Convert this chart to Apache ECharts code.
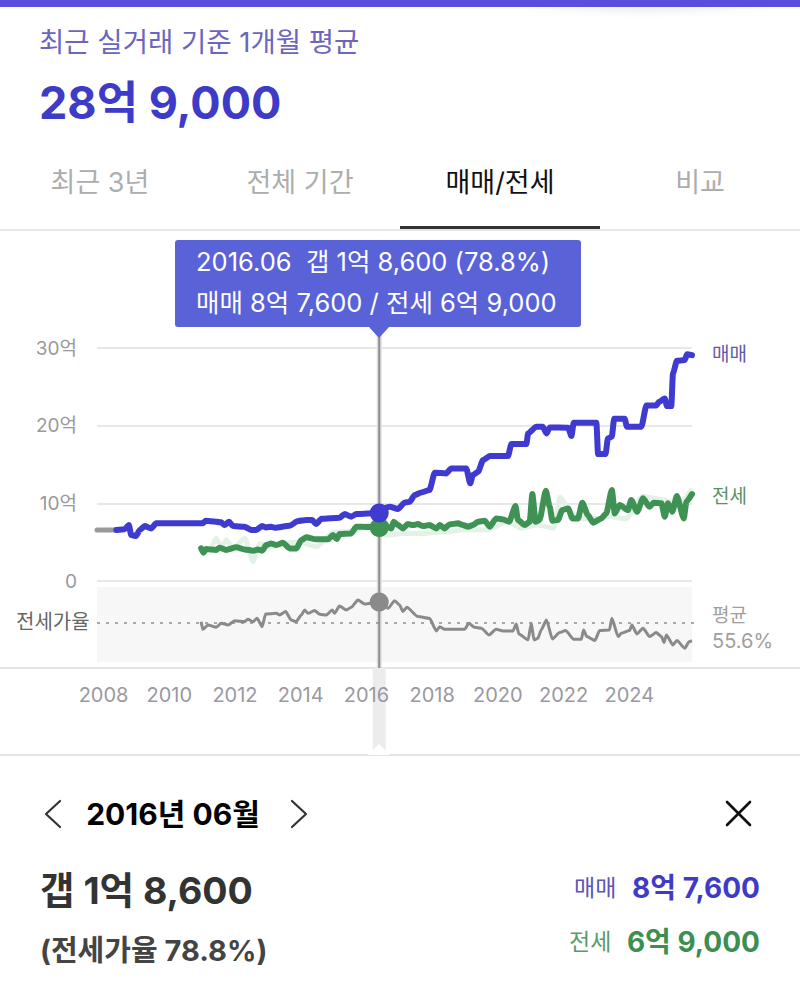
<!DOCTYPE html>
<html lang="ko"><head><meta charset="utf-8">
<style>html,body{margin:0;padding:0;background:#fff}#c{width:800px;height:1003px}</style>
<script src="https://cdn.jsdelivr.net/npm/echarts@6/dist/echarts.min.js"></script>
</head><body><div id="c"></div>
<script>
const xTicks=[2008,2010,2012,2014,2016,2018,2020,2022,2024];
const selectedYear=2016.39, selectedSale=8.76, selectedJeonse=6.9, selectedRatio=78.8, averageRatio=55.6;
const preYears=[2007.8,2008.39];
const preValues=[6.56,6.56];
const saleYears=[2008.39,2008.64,2008.77,2008.84,2008.99,2009.10,2009.25,2009.45,2009.60,2011.02,2011.11,2011.58,2011.68,2011.82,2011.94,2012.29,2012.50,2012.65,2012.82,2012.95,2013.10,2013.21,2013.66,2013.92,2014.17,2014.35,2014.47,2014.63,2015.18,2015.34,2015.54,2015.69,2016.39,2016.60,2016.71,2016.96,2017.16,2017.32,2017.47,2017.67,2017.92,2018.08,2018.43,2018.58,2019.04,2019.16,2019.24,2019.40,2019.55,2019.75,2020.31,2020.41,2020.87,2020.92,2021.17,2021.37,2021.48,2021.58,2022.14,2022.24,2022.31,2023.00,2023.05,2023.28,2023.35,2023.47,2023.54,2023.86,2023.93,2024.37,2024.52,2024.82,2024.91,2025.08,2025.15,2025.28,2025.33,2025.45,2025.69,2025.76,2025.91];
const saleValues=[6.56,6.65,7.20,5.92,5.79,6.56,7.07,6.77,7.42,7.42,7.76,7.55,7.20,7.63,7.07,6.99,6.56,6.56,7.07,6.90,6.99,6.86,7.12,7.72,7.85,7.85,7.33,8.02,8.15,8.62,8.28,8.62,8.76,9.45,9.56,9.26,10.08,10.21,11.06,11.41,11.71,13.94,13.85,14.50,14.50,12.57,13.64,14.07,15.57,16.08,16.08,17.63,17.63,19.00,19.86,19.86,19.00,19.77,19.73,18.66,20.37,20.37,16.34,16.34,18.36,18.57,20.89,20.89,19.86,19.86,22.60,22.60,23.08,23.51,22.52,22.52,26.72,28.35,28.44,29.21,29.08];
const jeonseYears=[2010.97,2011.04,2011.12,2011.43,2011.53,2011.73,2012.04,2012.29,2012.55,2012.70,2012.83,2012.95,2013.10,2013.26,2013.46,2013.66,2013.87,2014.02,2014.17,2014.47,2014.83,2014.98,2015.10,2015.18,2015.54,2015.69,2015.84,2016.39,2016.55,2016.63,2016.76,2016.83,2016.96,2017.11,2017.26,2017.42,2017.57,2017.72,2017.92,2018.13,2018.23,2018.38,2018.53,2018.79,2018.94,2019.09,2019.24,2019.40,2019.60,2019.75,2019.95,2020.16,2020.34,2020.54,2020.61,2020.82,2020.97,2021.05,2021.15,2021.27,2021.46,2021.58,2021.66,2021.83,2021.96,2022.14,2022.27,2022.44,2022.57,2022.74,2022.90,2023.15,2023.30,2023.47,2023.56,2023.71,2023.96,2024.06,2024.24,2024.42,2024.62,2024.74,2024.98,2025.08,2025.18,2025.31,2025.45,2025.66,2025.74,2025.91];
const jeonseValues=[4.20,3.64,4.12,4.00,4.29,4.00,4.33,4.07,3.90,4.07,3.90,4.63,4.84,4.63,4.93,4.20,4.20,5.27,5.62,5.36,5.36,5.92,5.40,6.05,6.13,6.99,6.99,6.90,7.50,7.00,6.77,7.63,7.20,6.77,7.33,7.20,7.33,7.07,7.20,6.77,7.20,6.77,7.29,7.42,7.20,7.00,7.20,7.63,7.76,7.00,8.06,7.93,7.63,9.65,7.85,7.20,7.63,11.19,7.63,7.85,11.62,9.56,7.76,7.85,9.13,9.35,8.06,8.06,10.08,8.49,7.50,8.06,8.70,11.71,8.70,9.78,9.13,10.42,8.92,10.64,9.56,10.08,10.00,8.28,10.00,8.92,10.94,8.06,10.21,11.19];
const jeonseRawYears=[2011.30,2011.43,2011.60,2011.73,2011.95,2012.30,2012.55,2012.75,2013.10,2013.60,2014.00,2014.47,2015.00,2015.60,2016.10,2016.60,2017.10,2017.70,2018.30,2019.00,2019.70,2020.30,2020.70,2021.20,2021.70,2021.90,2022.20,2022.60,2023.00,2023.40,2023.90,2024.40,2025.00,2025.50,2025.91];
const jeonseRawValues=[4.4,5.5,4.2,5.3,4.2,5.5,2.5,4.8,4.4,4.9,5.0,4.4,6.3,6.4,7.2,5.9,6.1,6.1,6.3,6.6,6.6,7.7,6.8,7.2,6.8,10.8,8.8,8.0,8.0,8.3,8.0,10.9,10.5,9.9,11.9];
const ratioYears=[2010.97,2011.02,2011.18,2011.43,2011.58,2011.79,2011.99,2012.29,2012.39,2012.55,2012.67,2012.83,2012.93,2013.26,2013.36,2013.54,2013.71,2013.86,2014.02,2014.12,2014.22,2014.42,2014.58,2014.78,2014.96,2015.03,2015.18,2015.39,2015.54,2015.74,2015.95,2016.39,2016.66,2016.86,2017.01,2017.11,2017.23,2017.57,2017.92,2018.13,2018.23,2018.38,2018.99,2019.12,2019.29,2019.50,2019.73,2019.95,2020.16,2020.46,2020.56,2020.64,2020.92,2021.02,2021.10,2021.22,2021.32,2021.48,2021.66,2021.88,2022.06,2022.31,2022.54,2022.61,2022.71,2022.95,2023.10,2023.40,2023.47,2023.66,2023.76,2024.01,2024.08,2024.23,2024.42,2024.62,2024.82,2024.98,2025.06,2025.13,2025.33,2025.45,2025.69,2025.82,2025.91];
const ratioValues=[57.1,48.6,53.4,50.9,55.3,53.4,58.2,57.1,59.7,57.1,60.8,51.6,65.6,66.3,64.5,68.2,59.0,57.1,64.5,70.0,66.3,69.3,65.2,64.5,70.0,66.3,74.4,70.0,73.0,81.0,76.6,78.8,71.8,80.3,75.5,68.2,73.0,62.7,60.8,46.8,51.6,48.7,48.7,55.3,50.9,49.8,42.4,48.7,46.8,46.8,54.5,43.5,36.9,55.3,36.9,38.7,48.0,59.0,38.0,45.0,47.2,37.6,37.6,48.0,40.6,36.2,47.2,48.0,60.8,40.6,44.2,47.2,53.4,43.5,49.8,40.6,45.0,40.6,34.0,42.4,31.4,36.2,27.7,35.0,36.2];
const zip=(a,b)=>a.map((x,i)=>[x,b[i]]);
const FONT='Inter,"Noto Sans CJK KR","Noto Sans",sans-serif';
const XMIN=2007.8,XMAX=2025.91;
const t=(text,x,y,size,fill,o={})=>({type:'text',silent:true,z:o.z||20,style:{text,x,y,fill,font:`${o.bold?'bold ':''}${size}px ${FONT}`,textAlign:o.align||'left',textVerticalAlign:'middle'}});
const rect=(x,y,w,h,fill,z=1)=>({type:'rect',silent:true,z,shape:{x,y,width:w,height:h},style:{fill}});
const poly=(points,stroke,w)=>({type:'polyline',silent:true,z:20,shape:{points},style:{stroke,lineWidth:w,fill:null,lineCap:'round',lineJoin:'round'}});
const graphic=[
 {type:'rect',silent:true,z:1,shape:{x:510,y:7,width:270,height:22},style:{fill:{type:'radial',x:0.5,y:0,r:0.5,colorStops:[{offset:0,color:'#efeff3'},{offset:1,color:'#ffffff'}]}}},
 {type:'rect',silent:true,z:2,shape:{x:0,y:0,width:800,height:7},style:{fill:'#5a4fdc'}},
 t('최근 실거래 기준 1개월 평균',39,42,27.5,'#6b66bd'),
 t('28억 9,000',39,102,45,'#3f3bc9',{bold:true}),
 t('최근 3년',100,182,27,'#adadad',{align:'center'}),
 t('전체 기간',300,182,27,'#adadad',{align:'center'}),
 t('매매/전세',500,182,27,'#111111',{align:'center'}),
 t('비교',700,182,27,'#adadad',{align:'center'}),
 rect(0,229,800,2,'#e6e6e6'),
 rect(400,226,200,3,'#333333',2),
 // callout
 {type:'rect',silent:true,z:15,shape:{x:175,y:240,width:406,height:87,r:3},style:{fill:'#5a62d8'}},
 {type:'polygon',silent:true,z:15,shape:{points:[[369,327],[389,327],[379,338]]},style:{fill:'#5a62d8'}},
 t('2016.06  갭 1억 8,600 (78.8%)',196,261,25.5,'#ffffff'),
 t('매매 8억 7,600 / 전세 6억 9,000',196,302,25.5,'#ffffff'),
 // series labels
 t('매매',712,354,19,'#5f59a8'),
 t('전세',712,496,19,'#5b8f68'),
 t('전세가율',16,622,20,'#666666'),
 t('평균',712,615,19,'#a0a0a0'),
 t('55.6%',712,641,20,'#a0a0a0'),
 rect(0,667,800,2,'#e4e4e4'),
 rect(0,754,800,2,'#e4e4e4'),
 {type:'polygon',silent:true,z:6,shape:{points:[[368,755],[390,755],[379,744]]},style:{fill:'#ffffff'}},
 // bottom panel
 poly([[60,801],[46,814],[60,827]],'#333333',2.2),
 t('2016년 06월',173,814,30,'#000000',{bold:true,align:'center'}),
 poly([[292,801],[306,814],[292,827]],'#333333',2.2),
 poly([[727,802],[750,825]],'#111111',2.6),
 poly([[750,802],[727,825]],'#111111',2.6),
 t('갭 1억 8,600',40,890,37.5,'#333333',{bold:true}),
 t('(전세가율 78.8%)',40,950,29,'#444444',{bold:true}),
 t('매매',574,888,23,'#5a55b8'),
 t('8억 7,600',760,888,28,'#3f3bc9',{bold:true,align:'right'}),
 t('전세',569,942,23,'#5b9a6b'),
 t('6억 9,000',760,942,28,'#3c8f50',{bold:true,align:'right'})
];
const xBase=(gridIndex,extra)=>Object.assign({type:'value',gridIndex,min:XMIN,max:XMAX,splitLine:{show:false},axisLine:{show:false},axisTick:{show:false},axisLabel:{show:false}},extra||{});
const overlayY=i=>({type:'value',gridIndex:i,min:0,max:1,show:false});
const curve={smooth:0.2,smoothMonotone:'x'};
const chart=echarts.init(document.getElementById('c'),null,{renderer:'svg',width:800,height:1003});
chart.setOption({
 animation:false,backgroundColor:'#ffffff',textStyle:{fontFamily:FONT},
 graphic,
 grid:[
  {left:97,width:595,top:348,height:233},
  {left:97,width:595,top:587,height:75,show:true,backgroundColor:'#f7f7f7',borderWidth:0},
  {left:97,width:595,top:328,height:340},
  {left:97,width:595,top:668,height:87}
 ],
 xAxis:[
  xBase(0),
  xBase(1,{z:10,axisLabel:{show:true,customValues:xTicks,formatter:v=>String(v),color:'#99999f',fontSize:20,margin:23,fontFamily:FONT,hideOverlap:false}}),
  xBase(2),xBase(3)
 ],
 yAxis:[
  {type:'value',gridIndex:0,min:0,max:30,interval:10,axisLine:{show:false},axisTick:{show:false},
   splitLine:{lineStyle:{color:'#e8e8e8',width:2}},
   axisLabel:{color:'#999999',fontSize:19,margin:20,fontFamily:FONT,formatter:v=>v===0?'0':v+'억'}},
  {type:'value',gridIndex:1,min:12.5,max:95.4,show:false},
  overlayY(2),overlayY(3)
 ],
 series:[
  {type:'line',name:'band',xAxisIndex:3,yAxisIndex:3,silent:true,symbol:'none',z:3,data:[[selectedYear,0],[selectedYear,1]],lineStyle:{color:'#ececec',width:13}},
  {type:'line',name:'halo',xAxisIndex:2,yAxisIndex:2,silent:true,symbol:'none',z:3,data:[[selectedYear,0],[selectedYear,1]],lineStyle:{color:'#dedede',width:5}},
  {type:'line',name:'cursor',xAxisIndex:2,yAxisIndex:2,silent:true,symbol:'none',z:4,data:[[selectedYear,0],[selectedYear,1]],lineStyle:{color:'#8f8f8f',width:2}},
  {type:'line',name:'이전',xAxisIndex:0,yAxisIndex:0,symbol:'none',z:5,data:zip(preYears,preValues),lineStyle:{color:'#9a9a9a',width:5,cap:'round'}},
  Object.assign({type:'line',name:'전세 원본',xAxisIndex:0,yAxisIndex:0,symbol:'none',z:5,data:zip(jeonseRawYears,jeonseRawValues),lineStyle:{color:'#e3f1e6',width:5,join:'round'}},curve),
  Object.assign({type:'line',name:'전세',xAxisIndex:0,yAxisIndex:0,symbol:'none',z:6,data:zip(jeonseYears,jeonseValues),lineStyle:{color:'#3e9354',width:6,cap:'round',join:'round'}},curve),
  Object.assign({type:'line',name:'매매',xAxisIndex:0,yAxisIndex:0,symbol:'none',z:7,data:zip(saleYears,saleValues),lineStyle:{color:'#3f3ad0',width:6,cap:'round',join:'round'}},curve),
  {type:'line',name:'평균',xAxisIndex:1,yAxisIndex:1,symbol:'none',z:5,clip:false,data:[[XMIN,averageRatio],[2026.2,averageRatio]],lineStyle:{color:'#8f8f8f',width:1.5,type:[3,6]}},
  Object.assign({type:'line',name:'전세가율',xAxisIndex:1,yAxisIndex:1,symbol:'none',z:6,data:zip(ratioYears,ratioValues),lineStyle:{color:'#8a8a8a',width:3,join:'round'}},curve),
  {type:'scatter',xAxisIndex:0,yAxisIndex:0,z:9,symbolSize:19,itemStyle:{color:'#3f3ad0',opacity:1},data:[[selectedYear,selectedSale]]},
  {type:'scatter',xAxisIndex:0,yAxisIndex:0,z:8,symbolSize:19,itemStyle:{color:'#3e9354',opacity:1},data:[[selectedYear,selectedJeonse]]},
  {type:'scatter',xAxisIndex:1,yAxisIndex:1,z:9,symbolSize:19,itemStyle:{color:'#8a8a8a',opacity:1},data:[[selectedYear,selectedRatio]]}
 ]
});
</script></body></html>
